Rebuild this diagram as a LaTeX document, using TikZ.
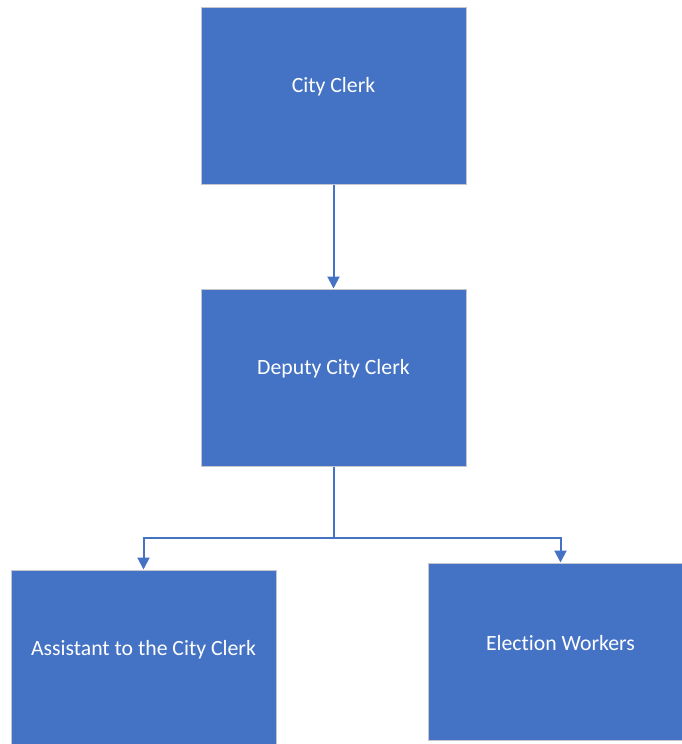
\documentclass[tikz,border=0pt]{standalone}
\usepackage{fontspec}
\setmainfont[Ligatures={NoCommon}]{Carlito}
\usetikzlibrary{arrows.meta}
\definecolor{boxblue}{HTML}{4472C4}
\definecolor{boxedge}{HTML}{C4C8CE}
\begin{document}
\begin{tikzpicture}[x=0.75pt,y=-0.75pt,
  orgbox/.style={draw=boxedge,line width=0.75pt,fill=boxblue,minimum width=198.75pt,minimum height=132.75pt,inner sep=0pt,
    label={[text=white,font=\fontsize{16.3}{19}\selectfont,yshift=6.5pt]center:#1}},
  link/.style={draw=boxblue,line width=1.5pt,-{Triangle[width=9pt,length=9pt]}}]
\useasboundingbox (0,0) rectangle (682,744);
\node[orgbox={City Clerk}] (clerk) at (333.5,95.5) {};
\node[orgbox={Deputy City Clerk}] (deputy) at (333.5,377.5) {};
\node[orgbox={Assistant to the City Clerk}] (assist) at (143.5,658.5) {};
\node[orgbox={Election Workers}] (election) at (560.5,651.5) {};
\coordinate (fork) at (333.5,538);
\draw[link] (clerk.south) -- (deputy.north);
\draw[draw=boxblue,line width=1.5pt] (deputy.south) -- (fork);
\draw[link] (fork) -| (assist.north);
\draw[link] (fork) -| (election.north);
\end{tikzpicture}
\end{document}
